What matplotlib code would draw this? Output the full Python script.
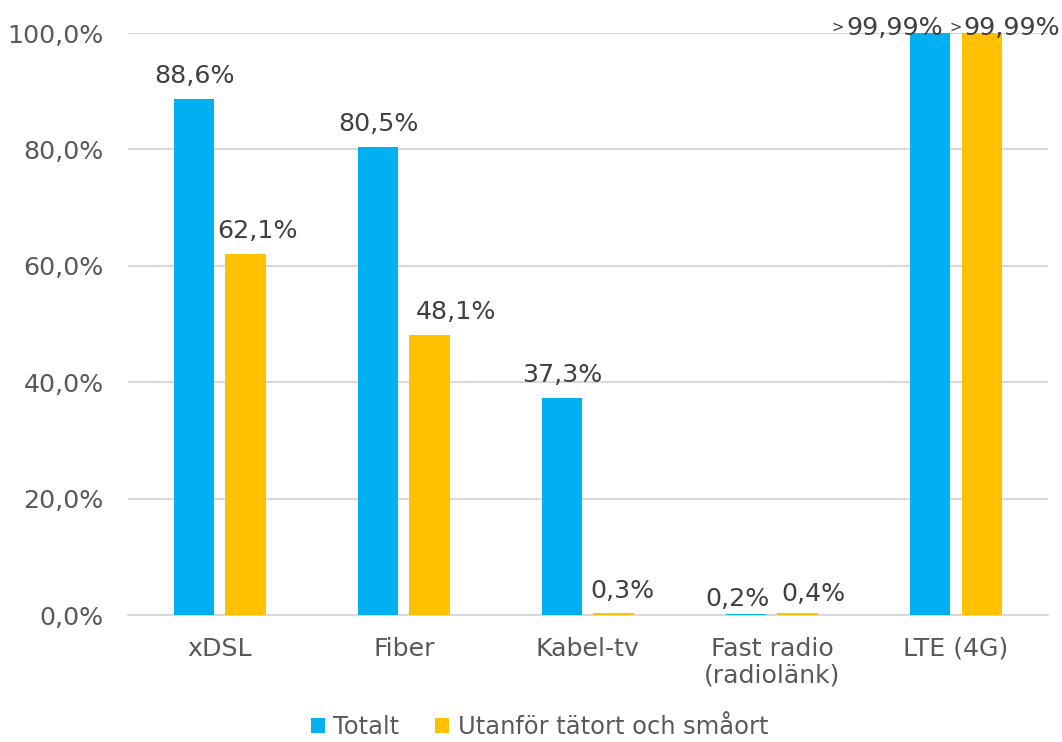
import numpy as np
from matplotlib import pyplot as plt

categories = ['xDSL', 'Fiber', 'Kabel-tv', 'Fast radio\n(radiolänk)', 'LTE (4G)']
totalt = [88.6, 80.5, 37.3, 0.2, 99.99]
utanfor = [62.1, 48.1, 0.3, 0.4, 99.99]
label_totalt = ['88,6%', '80,5%', '37,3%', '0,2%', '99,99%']
label_utanfor = ['62,1%', '48,1%', '0,3%', '0,4%', '99,99%']
more_than = [False, False, False, False, True]
series_names = ['Totalt', 'Utanför tätort och småort']
yticks = [0, 20, 40, 60, 80, 100]

# label nudges in pixels (dx, baseline gap above bar), as placed in the original
nudge_totalt = [(0, 16), (0, 16), (0, 16), (-9, 8), (-36, -2)]
nudge_utanfor = [(12, 16), (26, 16), (9, 15), (16, 12), (30, -2)]


def main():
    plt.rcParams['font.family'] = ['DejaVu Sans']
    fig = plt.figure(figsize=(10.62, 7.42), dpi=100)
    ax = fig.add_axes([0.1205, 0.171, 0.8663, 0.7845])

    blue = '#00B0F0'
    orange = '#FFC000'
    x = np.arange(len(categories))
    w = 0.22
    off = 0.14
    b1 = ax.bar(x - off, totalt, w, color=blue, label=series_names[0], zorder=3)
    b2 = ax.bar(x + off, utanfor, w, color=orange, label=series_names[1], zorder=3)

    fs = 18.2
    px = 72 / 100
    for bars, labels, nudges in ((b1, label_totalt, nudge_totalt), (b2, label_utanfor, nudge_utanfor)):
        for rect, lab, gt, (dx, dy) in zip(bars, labels, more_than, nudges):
            t = ax.annotate(lab, (rect.get_x() + rect.get_width() / 2, rect.get_height()),
                            xytext=(dx * px, dy * px), textcoords='offset points',
                            ha='center', va='baseline', fontsize=fs, color='#404040',
                            zorder=4)
            if gt:
                ax.annotate('>', xy=(0, 0.52), xycoords=t, xytext=(-1.5, 0),
                            textcoords='offset points', ha='right', va='center',
                            fontsize=10.5, color='#404040')

    ax.set_xlim(-0.5, len(categories) - 0.5)
    ax.set_ylim(0, 100)
    ax.set_yticks(yticks)
    ax.set_yticklabels(['{:.1f}%'.format(v).replace('.', ',') for v in yticks])
    ax.set_xticks(x)
    ax.set_xticklabels(categories, linespacing=1.15)
    ax.tick_params(axis='both', length=0, labelsize=fs, colors='#595959')
    ax.tick_params(axis='y', pad=17.5)
    ax.tick_params(axis='x', pad=15.5)
    ax.grid(axis='y', color='#D9D9D9', linewidth=1.5, zorder=0)
    for s in ['top', 'right', 'left']:
        ax.spines[s].set_visible(False)
    ax.spines['bottom'].set_color('#D9D9D9')
    ax.spines['bottom'].set_linewidth(1.5)

    fig.legend(loc='lower center', bbox_to_anchor=(0.508, 0.004), ncol=2, frameon=False,
               fontsize=17.4, labelcolor='#595959', handlelength=0.58, handleheight=0.58,
               handletextpad=0.35, columnspacing=1.5, borderpad=0, borderaxespad=0)

    fig.savefig('out.png', dpi=100)


if __name__ == '__main__':
    main()
